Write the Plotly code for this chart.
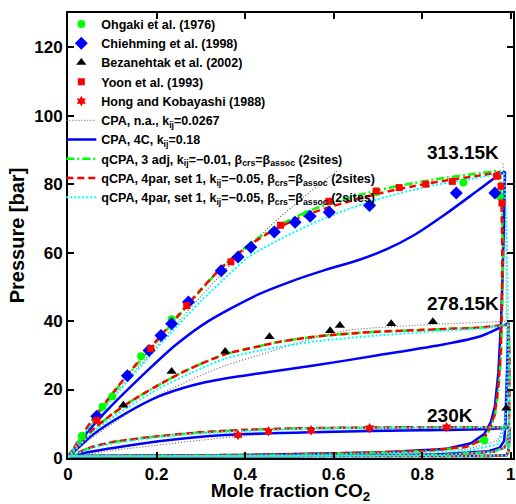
import plotly.graph_objects as go

# ---------------- tick labels ----------------
X_TICKS = [0, 0.2, 0.4, 0.6, 0.8, 1.0]
X_TICK_TEXT = ["0", "0.2", "0.4", "0.6", "0.8", "1"]
Y_TICKS = [0, 20, 40, 60, 80, 100, 120]
Y_TICK_TEXT = ["0", "20", "40", "60", "80", "100", "120"]

# ---------------- experimental data ----------------
OHGAKI_X = [0.031, 0.078, 0.10, 0.165, 0.234, 0.54, 0.696, 0.893, 0.975, 0.94]
OHGAKI_P = [6.4, 15.0, 18.0, 29.7, 40.5, 71.2, 77.6, 80.5, 76.5, 5.2]

CHIEHMING_X = [0.065, 0.134, 0.183, 0.21, 0.234, 0.272, 0.346, 0.384, 0.413, 0.466,
               0.513, 0.547, 0.59, 0.681, 0.877, 0.964]
CHIEHMING_P = [12.2, 24.0, 31.4, 35.8, 39.2, 45.6, 54.7, 58.7, 61.6, 66.0,
               68.9, 70.6, 71.8, 73.8, 77.4, 77.4]

BEZANEHTAK_X = [0.125, 0.234, 0.355, 0.455, 0.592, 0.614, 0.73, 0.824, 0.99]
BEZANEHTAK_P = [15.4, 25.3, 31.1, 35.4, 37.2, 38.7, 39.2, 39.8, 14.5]

YOON_X = [0.065, 0.187, 0.268, 0.368, 0.48, 0.589, 0.696, 0.748, 0.808, 0.868,
          0.968, 0.978, 0.98]
YOON_P = [11.0, 32.0, 44.5, 57.3, 68.0, 75.0, 78.0, 79.0, 80.0, 80.8,
          82.3, 79.4, 74.5]

HONG_X = [0.384, 0.453, 0.549, 0.681, 0.855]
HONG_P = [6.7, 7.8, 8.1, 8.7, 9.0]

# ---------------- model curves: 313.15 K ----------------
GRAY_313B_X = [0, 0.05, 0.1, 0.15, 0.2, 0.25, 0.3, 0.35, 0.384, 0.45, 0.53, 0.61]
GRAY_313B_P = [0.35, 9.3, 17.6, 25.3, 32.7, 40.0, 47.2, 54.2, 58.8, 67.0, 76.0, 84.0]
GRAY_313D_X = [0.982, 0.988, 0.99, 0.99, 0.985, 0.97, 0.9, 0.5, 0]
GRAY_313D_P = [86.0, 75.0, 50.0, 25.0, 10.0, 5.0, 2.5, 0.9, 0.5]

BLUE_313B_X = [0, 0.05, 0.1, 0.167, 0.243, 0.317, 0.43, 0.5, 0.578, 0.66, 0.72, 0.78,
               0.853, 0.927, 0.971, 0.987]
BLUE_313B_P = [0.35, 8.5, 15.5, 24.0, 33.0, 40.0, 47.8, 51.4, 54.8, 58.0, 61.0, 65.0,
               71.3, 78.3, 82.5, 83.7]
BLUE_313D_X = [0.987, 0.985, 0.982, 0.978, 0.972, 0.964, 0.955, 0.94, 0.91, 0.85, 0.7, 0.4, 0]
BLUE_313D_P = [83.7, 70.0, 55.0, 40.0, 25.0, 15.0, 10.5, 7.0, 4.3, 2.6, 1.6, 0.9, 0.5]

GREEN_313B_X = [0, 0.02, 0.05, 0.1, 0.15, 0.2, 0.25, 0.3, 0.35, 0.4, 0.45, 0.5,
                0.555, 0.63, 0.7, 0.78, 0.85, 0.93, 0.975]
GREEN_313B_P = [0.35, 4.2, 10.0, 18.5, 26.5, 34.0, 41.5, 49.0, 56.0, 61.5, 66.0, 69.5,
                72.7, 75.8, 78.2, 80.3, 81.8, 83.2, 84.0]
GREEN_313D_X = [0.975, 0.98, 0.982, 0.981, 0.978, 0.972, 0.965, 0.955, 0.94, 0.9, 0.8, 0.5, 0]
GREEN_313D_P = [84.0, 75.0, 60.0, 45.0, 30.0, 20.0, 13.0, 9.0, 5.5, 3.2, 2.0, 1.0, 0.5]

RED_313B_X = [0, 0.02, 0.05, 0.1, 0.15, 0.2, 0.25, 0.3, 0.35, 0.4, 0.45, 0.5,
              0.555, 0.63, 0.7, 0.78, 0.85, 0.93, 0.975]
RED_313B_P = [0.35, 4.3, 10.2, 18.8, 26.8, 34.3, 41.8, 49.2, 56.0, 61.3, 65.5, 68.8,
              71.8, 74.8, 77.2, 79.4, 81.0, 82.5, 83.5]
RED_313D_X = [0.975, 0.979, 0.981, 0.98, 0.977, 0.971, 0.964, 0.954, 0.938, 0.9, 0.8, 0.5, 0]
RED_313D_P = [83.5, 75.0, 60.0, 45.0, 30.0, 20.0, 13.0, 9.0, 5.5, 3.3, 2.0, 1.0, 0.5]

CYAN_313B_X = [0, 0.02, 0.05, 0.1, 0.15, 0.2, 0.25, 0.3, 0.35, 0.406, 0.48, 0.59,
               0.7, 0.815, 0.93, 0.985]
CYAN_313B_P = [0.35, 3.9, 9.3, 17.2, 24.7, 32.0, 39.0, 45.8, 52.0, 58.5, 64.0, 70.6,
               75.6, 79.4, 82.0, 83.3]
CYAN_313D_X = [0.985, 0.99, 0.993, 0.993, 0.99, 0.985, 0.97, 0.9, 0.5, 0]
CYAN_313D_P = [83.3, 70.0, 50.0, 30.0, 15.0, 8.0, 4.0, 2.0, 0.8, 0.5]

# ---------------- model curves: 278.15 K ----------------
GRAY_278B_X = [0, 0.05, 0.1, 0.15, 0.205, 0.28, 0.355, 0.43, 0.555, 0.63, 0.78, 0.853, 0.95, 0.995]
GRAY_278B_P = [0.07, 5.5, 10.0, 14.3, 18.4, 23.0, 27.0, 30.0, 35.0, 37.3, 38.7, 39.2, 39.7, 40.0]
BLUE_278B_X = [0, 0.056, 0.13, 0.205, 0.28, 0.355, 0.43, 0.555, 0.7, 0.853, 0.93, 0.971, 0.995]
BLUE_278B_P = [0.07, 6.8, 13.0, 18.0, 21.2, 23.2, 24.7, 27.0, 30.0, 33.3, 35.5, 37.8, 39.5]
QCPA_278B_X = [0, 0.05, 0.1, 0.15, 0.2, 0.25, 0.3, 0.355, 0.43, 0.48, 0.555, 0.63, 0.7,
               0.78, 0.853, 0.93, 0.995]
QCPA_278B_P = [0.07, 7.5, 12.8, 17.2, 21.0, 24.5, 27.5, 30.3, 32.6, 34.0, 35.4, 36.3, 36.9,
               37.3, 37.7, 38.1, 39.0]
CYAN_278B_X = [0, 0.05, 0.1, 0.15, 0.205, 0.28, 0.355, 0.43, 0.555, 0.7, 0.853, 0.95, 0.995]
CYAN_278B_P = [0.07, 6.8, 11.8, 16.0, 20.3, 25.0, 29.0, 31.3, 34.0, 35.8, 37.2, 38.0, 39.0]

BLUE_278D_X = [0.995, 0.993, 0.991, 0.988, 0.985, 0.975, 0.95, 0.83, 0.5, 0]
BLUE_278D_P = [39.5, 30.0, 20.0, 10.0, 5.0, 3.0, 2.0, 1.0, 0.6, 0.5]
OTHER_278D_X = [0.995, 0.997, 0.997, 0.996, 0.993, 0.985, 0.96, 0.85, 0.5, 0]
OTHER_278D_P = [39.0, 30.0, 20.0, 10.0, 5.0, 3.0, 1.8, 0.9, 0.6, 0.5]

# ---------------- model curves: 230 K ----------------
GRAY_230B_X = [0, 0.1, 0.2, 0.3, 0.4, 0.5, 0.7, 0.9, 0.998]
GRAY_230B_P = [0.2, 2.2, 3.7, 5.2, 6.5, 7.4, 8.3, 8.8, 9.0]
BLUE_230B_X = [0, 0.05, 0.13, 0.205, 0.355, 0.578, 0.8, 0.95, 0.998]
BLUE_230B_P = [0.2, 1.8, 3.5, 4.9, 6.7, 7.6, 8.1, 8.5, 8.9]
QCPA_230B_X = [0, 0.05, 0.1, 0.2, 0.3, 0.4, 0.5, 0.6, 0.7, 0.8, 0.95, 0.998]
QCPA_230B_P = [0.2, 3.0, 4.6, 6.3, 7.5, 8.2, 8.6, 8.8, 8.9, 9.0, 9.0, 9.0]
CYAN_230B_X = [0, 0.05, 0.1, 0.2, 0.3, 0.5, 0.7, 0.998]
CYAN_230B_P = [0.2, 2.7, 4.2, 6.0, 7.2, 8.4, 8.8, 9.0]
DEW230_X = [0.998, 0.997, 0.995, 0.99, 0.95, 0.5, 0]
DEW230_P = [9.0, 5.0, 2.0, 0.8, 0.6, 0.6, 0.6]

# ---------------- labels ----------------
TEMP_LABELS = ["313.15K", "278.15K", "230K"]
TEMP_LABEL_X = [0.893, 0.893, 0.862]
TEMP_LABEL_P = [89.2, 45.0, 12.5]

NAMES = [
    "Ohgaki et al. (1976)",
    "Chiehming et al. (1998)",
    "Bezanehtak et al. (2002)",
    "Yoon et al. (1993)",
    "Hong and Kobayashi (1988)",
    "CPA, n.a., k<sub>ij</sub>=0.0267",
    "CPA, 4C, k<sub>ij</sub>=0.18",
    "qCPA, 3 adj, k<sub>ij</sub>=\u22120.01, \u03b2<sub>crs</sub>=\u03b2<sub>assoc</sub> (2sites)",
    "qCPA, 4par, set 1, k<sub>ij</sub>=\u22120.05, \u03b2<sub>crs</sub>=\u03b2<sub>assoc</sub> (2sites)",
    "qCPA, 4par, set 1, k<sub>ij</sub>=\u22120.05, \u03b2<sub>crs</sub>=\u03b2<sub>assoc</sub> (2sites)",
]

FONT = "Liberation Sans, Arial, sans-serif"


def join(*segs):
    xs, ps = [], []
    for i, (sx, sp) in enumerate(segs):
        if i:
            xs.append(None)
            ps.append(None)
        xs += list(sx)
        ps += list(sp)
    return xs, ps


fig = go.Figure()


def add_model(name, rank, color, width, dash, bub, dew):
    bx, bp = join(*bub)
    dx, dp = join(*dew)
    fig.add_trace(go.Scatter(
        x=bx, y=bp, mode="lines", name=name, legendrank=rank, legendgroup=name,
        line=dict(color=color, width=width, dash=dash, shape="spline", smoothing=0.8),
        hoverinfo="skip"))
    fig.add_trace(go.Scatter(
        x=dx, y=dp, mode="lines", showlegend=False, legendgroup=name,
        line=dict(color=color, width=width, dash=dash), hoverinfo="skip"))


add_model(NAMES[5], 6, "#6e6e6e", 1.2, "1px,2px",
          [(GRAY_313B_X, GRAY_313B_P), (GRAY_278B_X, GRAY_278B_P), (GRAY_230B_X, GRAY_230B_P)],
          [(GRAY_313D_X, GRAY_313D_P), (OTHER_278D_X, OTHER_278D_P), (DEW230_X, DEW230_P)])
add_model(NAMES[6], 7, "#0000ff", 2.5, "solid",
          [(BLUE_313B_X, BLUE_313B_P), (BLUE_278B_X, BLUE_278B_P), (BLUE_230B_X, BLUE_230B_P)],
          [(BLUE_313D_X, BLUE_313D_P), (BLUE_278D_X, BLUE_278D_P), (DEW230_X, DEW230_P)])
add_model(NAMES[7], 8, "#00ff00", 2.5, "8px,3px,2px,3px",
          [(GREEN_313B_X, GREEN_313B_P), (QCPA_278B_X, QCPA_278B_P), (QCPA_230B_X, QCPA_230B_P)],
          [(GREEN_313D_X, GREEN_313D_P), (OTHER_278D_X, OTHER_278D_P), (DEW230_X, DEW230_P)])
add_model(NAMES[8], 9, "#ff0000", 2.5, "7px,4px",
          [(RED_313B_X, RED_313B_P), (QCPA_278B_X, QCPA_278B_P), (QCPA_230B_X, QCPA_230B_P)],
          [(RED_313D_X, RED_313D_P), (OTHER_278D_X, OTHER_278D_P), (DEW230_X, DEW230_P)])
add_model(NAMES[9], 10, "#00ffff", 2.0, "2px,2px",
          [(CYAN_313B_X, CYAN_313B_P), (CYAN_278B_X, CYAN_278B_P), (CYAN_230B_X, CYAN_230B_P)],
          [(CYAN_313D_X, CYAN_313D_P), (OTHER_278D_X, OTHER_278D_P), (DEW230_X, DEW230_P)])

MARKERS = [
    (OHGAKI_X, OHGAKI_P, "circle", "#00ff00", 8),
    (CHIEHMING_X, CHIEHMING_P, "diamond", "#0000ff", 10),
    (BEZANEHTAK_X, BEZANEHTAK_P, "triangle-up", "#000000", 9),
    (YOON_X, YOON_P, "square", "#ff0000", 7),
    (HONG_X, HONG_P, "hexagram", "#ff0000", 8),
]
for i, (mx, mp, sym, col, sz) in enumerate(MARKERS):
    fig.add_trace(go.Scatter(
        x=mx, y=mp, mode="markers", name=NAMES[i], legendrank=i + 1,
        marker=dict(symbol=sym, color=col, size=sz, line=dict(width=0)),
        hoverinfo="skip"))

for t, tx, tp in zip(TEMP_LABELS, TEMP_LABEL_X, TEMP_LABEL_P):
    fig.add_annotation(x=tx, y=tp, text=t, showarrow=False,
                       font=dict(family=FONT, size=19, color="black", weight="bold"))

fig.update_layout(
    width=516, height=504,
    margin=dict(l=68, r=0, t=13, b=44),
    paper_bgcolor="white", plot_bgcolor="white",
    font=dict(family=FONT, size=17, color="black", weight="bold"),
    showlegend=True,
    legend=dict(x=-0.015, y=1.008, xanchor="left", yanchor="top",
                bgcolor="rgba(0,0,0,0)", borderwidth=0,
                font=dict(family=FONT, size=12.5, color="black", weight="bold"),
                itemwidth=30, tracegroupgap=0),
    xaxis=dict(range=[0, 1.005], tickmode="array", tickvals=X_TICKS, ticktext=X_TICK_TEXT,
               ticks="inside", ticklen=6, tickwidth=1.5, tickcolor="black",
               ticklabeloverflow="allow",
               showline=True, linewidth=2, linecolor="black", mirror="ticks",
               showgrid=False, zeroline=False,
               tickfont=dict(family=FONT, size=17, weight="bold"),
               title=dict(text="Mole fraction CO<sub>2</sub>", standoff=6,
                          font=dict(family=FONT, size=19, weight="bold"))),
    yaxis=dict(range=[0, 130], tickmode="array", tickvals=Y_TICKS, ticktext=Y_TICK_TEXT,
               ticks="inside", ticklen=6, tickwidth=1.5, tickcolor="black",
               showline=True, linewidth=2, linecolor="black", mirror="ticks",
               showgrid=False, zeroline=False,
               tickfont=dict(family=FONT, size=17, weight="bold"),
               title=dict(text="Pressure [bar]", standoff=4,
                          font=dict(family=FONT, size=20, weight="bold"))),
)

fig.write_html("out.html")
